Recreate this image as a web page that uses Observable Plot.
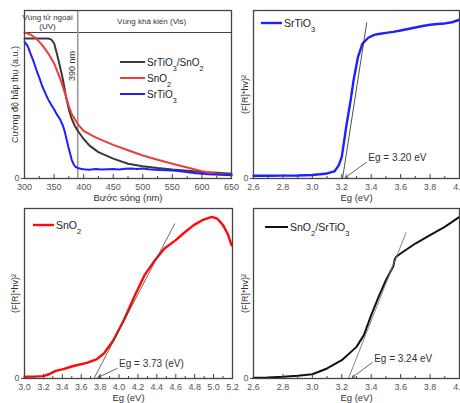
<!DOCTYPE html>
<html><head><meta charset="utf-8">
<script src="https://cdn.jsdelivr.net/npm/d3@7"></script>
<script src="https://cdn.jsdelivr.net/npm/@observablehq/plot@0.6"></script>
<style>
html,body{margin:0;padding:0;background:#fff;overflow:hidden;}
#wrap{position:relative;width:460px;height:403px;background:#fff;}
</style></head><body><div id="wrap"></div>
<script>
// ---------- Panel 1: UV-Vis absorbance ----------
const wlTicks = [300,350,400,450,500,550,600,650];
const wlMinor = [325,375,425,475,525,575,625];
const compWl  = [300,320,340,345,350,355,360,365,370,375,380,385,390,400,410,425,450,475,500,525,550,575,600,625,650];
const compAbs = [0.833,0.834,0.833,0.828,0.805,0.74,0.667,0.588,0.49,0.41,0.353,0.314,0.284,0.235,0.196,0.157,0.118,0.088,0.073,0.062,0.053,0.046,0.039,0.034,0.029];
const snWl  = [300,310,320,330,340,350,360,370,375,380,390,400,420,450,475,500,525,550,575,600,625,650];
const snAbs = [0.869,0.857,0.833,0.794,0.745,0.686,0.598,0.49,0.43,0.382,0.324,0.284,0.245,0.2,0.168,0.137,0.112,0.088,0.066,0.043,0.029,0.02];
const stWl  = [300,303,306,310,315,320,325,330,335,340,345,350,355,360,365,368,371,374,377,380,383,386,390,395,400,410,420,430,440,450,460,470,480,490,500,510,520,530,540,550,560,570,580,590,600,610,620,630,640,650];
const stAbs = [0.814,0.80,0.784,0.745,0.70,0.647,0.60,0.549,0.51,0.471,0.44,0.412,0.38,0.353,0.314,0.28,0.235,0.19,0.15,0.11,0.085,0.07,0.063,0.058,0.055,0.052,0.056,0.053,0.055,0.057,0.054,0.058,0.06,0.057,0.059,0.055,0.052,0.05,0.049,0.047,0.044,0.04,0.035,0.031,0.029,0.026,0.024,0.022,0.021,0.02];
const edgeWl = [390];
const bandEdge = [0.869];
const regionLabels = [
  {x: 339, y: 0.935, text: "Vùng tử ngoại\n(UV)"},
  {x: 515, y: 0.935, text: "Vùng khả kiến (Vis)"}
];
const edgeLabel = [{x: 380, y: 0.67, text: "390 nm"}];

// ---------- Panel 2: SrTiO3 Tauc ----------
const egTicksA = [2.6,2.8,3.0,3.2,3.4,3.6,3.8,4.0];
const egMinorA = [2.7,2.9,3.1,3.3,3.5,3.7,3.9];
const stoEv = [2.6,2.7,2.8,2.9,3.0,3.05,3.1,3.15,3.18,3.2,3.23,3.26,3.28,3.31,3.34,3.38,3.42,3.45,3.5,3.55,3.6,3.65,3.7,3.75,3.8,3.85,3.9,3.95,4.0];
const stoF  = [0.016,0.016,0.017,0.018,0.021,0.025,0.03,0.042,0.08,0.129,0.307,0.465,0.584,0.723,0.802,0.838,0.855,0.86,0.867,0.873,0.881,0.89,0.899,0.908,0.915,0.92,0.923,0.93,0.945];
const stoTangent = [{x1: 3.205, y1: 0, x2: 3.37, y2: 0.93}];
const stoNote = [{text: "Eg = 3.20 eV", x: 3.38, y: 0.125, ax: 3.366, ay: 0.095, bx: 3.224, by: 0.006}];

// ---------- Panel 3: SnO2 Tauc ----------
const egTicksB = [3.0,3.2,3.4,3.6,3.8,4.0,4.2,4.4,4.6,4.8,5.0,5.2];
const egMinorB = [3.1,3.3,3.5,3.7,3.9,4.1,4.3,4.5,4.7,4.9,5.1];
const snoEv = [3.0,3.1,3.2,3.26,3.33,3.42,3.49,3.55,3.66,3.76,3.84,3.94,4.05,4.16,4.27,4.38,4.48,4.6,4.68,4.79,4.88,4.98,5.04,5.10,5.15,5.19];
const snoF  = [0.01,0.011,0.014,0.025,0.045,0.057,0.069,0.078,0.092,0.112,0.147,0.225,0.343,0.48,0.608,0.696,0.765,0.814,0.853,0.902,0.931,0.951,0.94,0.902,0.85,0.784];
const snoTangent = [{x1: 3.735, y1: 0, x2: 4.59, y2: 0.912}];
const snoNote = [{text: "Eg = 3.73 (eV)", x: 4.0, y: 0.088, ax: 3.98, ay: 0.059, bx: 3.776, by: 0.006}];

// ---------- Panel 4: SnO2/SrTiO3 Tauc ----------
const hetEv = [2.6,2.7,2.8,2.9,3.0,3.1,3.2,3.3,3.35,3.4,3.45,3.5,3.55,3.56,3.57,3.6,3.65,3.7,3.8,3.9,4.0];
const hetF  = [0.004,0.006,0.01,0.016,0.025,0.059,0.108,0.186,0.255,0.373,0.48,0.578,0.66,0.7,0.716,0.735,0.765,0.794,0.843,0.892,0.951];
const hetTangent = [{x1: 3.245, y1: 0, x2: 3.637, y2: 0.859}];
const hetNote = [{text: "Eg = 3.24 eV", x: 3.42, y: 0.118, ax: 3.407, ay: 0.094, bx: 3.271, by: 0.006}];

// ---------- helpers ----------
const FONT = "'Liberation Sans', Arial, sans-serif";
const zip = (xs, ys) => xs.map((x, i) => ({x, y: ys[i]}));
const fmt1 = d3.format(".1f");

function legend(items, {dx, dy, len, rowH = 16, fontSize = 10}) {
  return (index, scales, values, dims) => {
    const g = d3.create("svg:g").attr("font-family", FONT).attr("font-size", fontSize)
      .attr("fill", "#222").attr("text-anchor", "start");
    items.forEach((it, i) => {
      const x0 = dims.marginLeft + dx, y = dims.marginTop + dy + i * rowH;
      g.append("line").attr("x1", x0).attr("x2", x0 + len).attr("y1", y).attr("y2", y)
        .attr("stroke", it.color).attr("stroke-width", it.width);
      const t = g.append("text").attr("x", x0 + len + 2).attr("y", y).attr("dy", "0.36em")
        .attr("text-anchor", "start");
      it.label.split(/(_\d)/).forEach(s => {
        if (!s) return;
        if (s[0] === "_") t.append("tspan").attr("baseline-shift", "sub").attr("font-size", fontSize * 0.72).text(s.slice(1));
        else t.append("tspan").text(s);
      });
    });
    return g.node();
  };
}

function frameMarks({frameH, major, minor, fmt, xTitle, yTitle, yDx}) {
  return [
    Plot.tickX(minor, {x: d => d, insetTop: frameH - 2, stroke: "#444"}),
    Plot.tickX(major, {x: d => d, insetTop: frameH - 4, stroke: "#444"}),
    Plot.axisX({ticks: major, tickSize: 0, tickPadding: 5, tickFormat: fmt, fill: "#555", label: null, fontSize: 9}),
    Plot.axisY({ticks: [0], tickSize: 3, tickPadding: 2, tickFormat: d3.format("d"), label: null, fill: "#555", stroke: "#444", fontSize: 9}),
    Plot.text([xTitle], {frameAnchor: "bottom", lineAnchor: "middle", textAnchor: "middle", dy: 19, fontSize: 9.5, fill: "#333"}),
    Plot.text([yTitle], {frameAnchor: "left", lineAnchor: "middle", textAnchor: "middle", rotate: -90, dx: yDx, fontSize: 9, fill: "#333"})
  ];
}

function place(svg, left, top) {
  svg.style.position = "absolute";
  svg.style.left = left + "px";
  svg.style.top = top + "px";
  document.getElementById("wrap").append(svg);
}

function make({left, top, width, height, ml, mr, mt, mb, xDomain, marks}) {
  const svg = Plot.plot({
    width, height, marginLeft: ml, marginRight: mr, marginTop: mt, marginBottom: mb,
    x: {domain: xDomain}, y: {domain: [0, 1]},
    style: {fontFamily: FONT, fontSize: "9px", background: "none", overflow: "visible", color: "#333"},
    marks
  });
  place(svg, left, top);
}

// Panel 1
make({
  left: 0, top: 0, width: 240, height: 200, ml: 24, mr: 9, mt: 10, mb: 22, xDomain: [300, 650],
  marks: [
    Plot.ruleY(bandEdge, {stroke: "#444", strokeWidth: 1.2}),
    Plot.ruleX(edgeWl, {stroke: "#999", strokeWidth: 1.6}),
    Plot.text(regionLabels, {x: "x", y: "y", text: "text", fontSize: 8, fill: "#333", lineHeight: 1.1}),
    Plot.text(edgeLabel, {x: "x", y: "y", text: "text", rotate: -90, fontSize: 9, fill: "#333"}),
    Plot.line(zip(compWl, compAbs), {x: "x", y: "y", stroke: "#3a3a3a", strokeWidth: 2}),
    Plot.line(zip(snWl, snAbs), {x: "x", y: "y", stroke: "#ef3b3b", strokeWidth: 2}),
    Plot.line(zip(stWl, stAbs), {x: "x", y: "y", stroke: "#1f1fff", strokeWidth: 2}),
    ...frameMarks({frameH: 168, major: wlTicks, minor: wlMinor, fmt: d3.format("d"), xTitle: "Bước sóng (nm)", yTitle: "Cường độ hấp thụ (a.u.)", yDx: -9}),
    Plot.frame({stroke: "#444", strokeWidth: 1.3}),
    legend([
      {label: "SrTiO_3/SnO_2", color: "#3a3a3a", width: 2},
      {label: "SnO_2", color: "#ef3b3b", width: 2},
      {label: "SrTiO_3", color: "#1f1fff", width: 2}
    ], {dx: 96, dy: 52, len: 25, rowH: 16, fontSize: 10})
  ]
});

// Panel 2
make({
  left: 230, top: 0, width: 230, height: 200, ml: 23, mr: 1, mt: 10, mb: 22, xDomain: [2.6, 4.0],
  marks: [
    Plot.line(zip(stoEv, stoF), {x: "x", y: "y", stroke: "#1f1fff", strokeWidth: 2.4}),
    Plot.link(stoTangent, {x1: "x1", y1: "y1", x2: "x2", y2: "y2", stroke: "#222", strokeWidth: 0.8}),
    Plot.arrow(stoNote, {x1: "ax", y1: "ay", x2: "bx", y2: "by", stroke: "#555", strokeWidth: 0.9, headLength: 5}),
    Plot.text(stoNote, {x: "x", y: "y", text: "text", textAnchor: "start", fontSize: 10, fill: "#333"}),
    ...frameMarks({frameH: 168, major: egTicksA, minor: egMinorA, fmt: fmt1, xTitle: "Eg (eV)", yTitle: "(F[R]*hv)²", yDx: -8}),
    Plot.frame({stroke: "#444", strokeWidth: 1.3}),
    legend([{label: "SrTiO_3", color: "#1f1fff", width: 2.4}], {dx: 8, dy: 13, len: 21, fontSize: 10.5})
  ]
});

// Panel 3
make({
  left: 0, top: 200, width: 240, height: 203, ml: 24, mr: 8, mt: 8, mb: 25, xDomain: [3.0, 5.2],
  marks: [
    Plot.line(zip(snoEv, snoF), {x: "x", y: "y", stroke: "#ff0a0a", strokeWidth: 2.4}),
    Plot.link(snoTangent, {x1: "x1", y1: "y1", x2: "x2", y2: "y2", stroke: "#444", strokeWidth: 0.8}),
    Plot.arrow(snoNote, {x1: "ax", y1: "ay", x2: "bx", y2: "by", stroke: "#555", strokeWidth: 0.9, headLength: 5}),
    Plot.text(snoNote, {x: "x", y: "y", text: "text", textAnchor: "start", fontSize: 10, fill: "#333"}),
    ...frameMarks({frameH: 170, major: egTicksB, minor: egMinorB, fmt: fmt1, xTitle: "Eg (eV)", yTitle: "(F[R]*hv)²", yDx: -9}),
    Plot.frame({stroke: "#444", strokeWidth: 1.3}),
    legend([{label: "SnO_2", color: "#ff0a0a", width: 2.4}], {dx: 9, dy: 17, len: 21, fontSize: 10.5})
  ]
});

// Panel 4
make({
  left: 230, top: 200, width: 230, height: 203, ml: 23, mr: 1, mt: 8, mb: 25, xDomain: [2.6, 4.0],
  marks: [
    Plot.line(zip(hetEv, hetF), {x: "x", y: "y", stroke: "#111", strokeWidth: 2}),
    Plot.link(hetTangent, {x1: "x1", y1: "y1", x2: "x2", y2: "y2", stroke: "#777", strokeWidth: 0.9}),
    Plot.arrow(hetNote, {x1: "ax", y1: "ay", x2: "bx", y2: "by", stroke: "#555", strokeWidth: 0.9, headLength: 5}),
    Plot.text(hetNote, {x: "x", y: "y", text: "text", textAnchor: "start", fontSize: 10, fill: "#333"}),
    ...frameMarks({frameH: 170, major: egTicksA, minor: egMinorA, fmt: fmt1, xTitle: "Eg (eV)", yTitle: "(F[R]*hv)²", yDx: -8}),
    Plot.frame({stroke: "#444", strokeWidth: 1.3}),
    legend([{label: "SnO_2/SrTiO_3", color: "#111", width: 2}], {dx: 12, dy: 19, len: 23, fontSize: 10.5})
  ]
});
</script></body></html>
